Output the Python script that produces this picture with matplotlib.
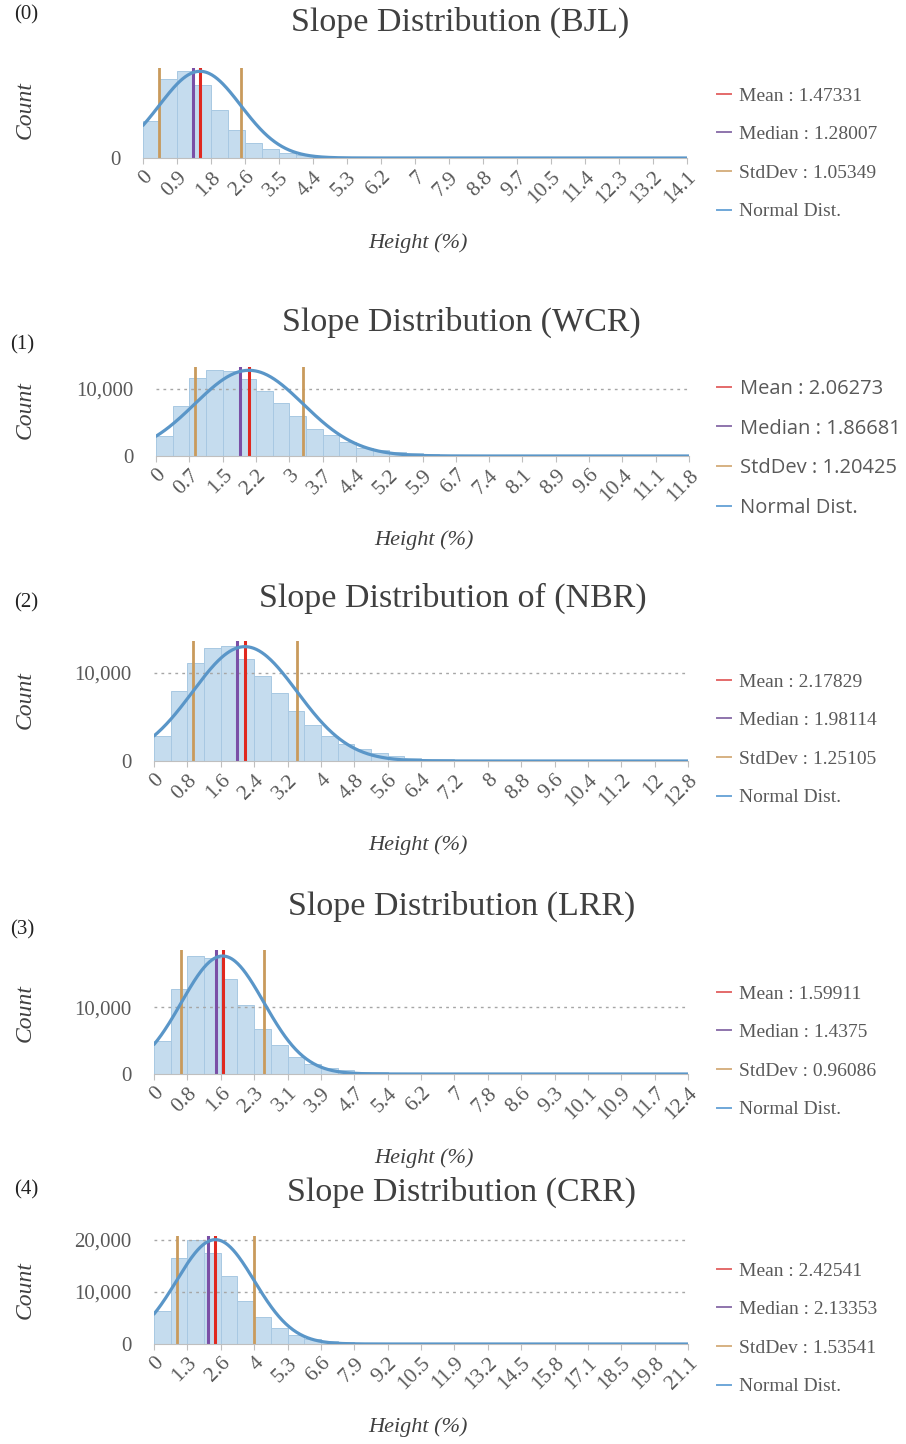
import numpy as np
import matplotlib
matplotlib.use("Agg")
import matplotlib.pyplot as plt
from matplotlib.lines import Line2D

# ---------------- data ----------------
panel_tags = ["(0)", "(1)", "(2)", "(3)", "(4)"]
titles = ["Slope Distribution (BJL)", "Slope Distribution (WCR)",
          "Slope Distribution of (NBR)", "Slope Distribution (LRR)",
          "Slope Distribution (CRR)"]

x_max = [14.06, 11.83, 12.8, 12.44, 21.1]

xtick_labels_bjl = ["0", "0.9", "1.8", "2.6", "3.5", "4.4", "5.3", "6.2", "7", "7.9",
                    "8.8", "9.7", "10.5", "11.4", "12.3", "13.2", "14.1"]
xtick_labels_wcr = ["0", "0.7", "1.5", "2.2", "3", "3.7", "4.4", "5.2", "5.9", "6.7",
                    "7.4", "8.1", "8.9", "9.6", "10.4", "11.1", "11.8"]
xtick_labels_nbr = ["0", "0.8", "1.6", "2.4", "3.2", "4", "4.8", "5.6", "6.4", "7.2",
                    "8", "8.8", "9.6", "10.4", "11.2", "12", "12.8"]
xtick_labels_lrr = ["0", "0.8", "1.6", "2.3", "3.1", "3.9", "4.7", "5.4", "6.2", "7",
                    "7.8", "8.6", "9.3", "10.1", "10.9", "11.7", "12.4"]
xtick_labels_crr = ["0", "1.3", "2.6", "4", "5.3", "6.6", "7.9", "9.2", "10.5", "11.9",
                    "13.2", "14.5", "15.8", "17.1", "18.5", "19.8", "21.1"]

counts_bjl = [3700, 7930, 8670, 7270, 4770, 2770, 1500, 930, 500, 270, 150, 100, 60, 40,
              30, 20, 15, 10, 8, 5, 4, 3, 2, 2, 1, 1, 1, 1, 1, 1, 1, 1]
counts_wcr = [2890, 7450, 11520, 12700, 12600, 11370, 9660, 7800, 5980, 4020, 3040, 2060,
              1230, 830, 590, 390, 300, 220, 160, 120, 90, 70, 50, 40, 30, 20, 15, 10, 8,
              6, 4, 3]
counts_nbr = [2830, 7960, 11060, 12830, 13020, 11550, 9660, 7660, 5660, 4075, 2830, 1890,
              1320, 870, 600, 380, 260, 180, 120, 90, 60, 45, 30, 20, 15, 10, 8, 6, 4, 3,
              2, 2]
counts_lrr = [4975, 12690, 17710, 17400, 14230, 10350, 6770, 4380, 2490, 1490, 900, 550,
              350, 250, 180, 120, 80, 60, 40, 30, 20, 15, 10, 8, 6, 4, 3, 2, 2, 1, 1, 1]
counts_crr = [6350, 16510, 20000, 17460, 13020, 8250, 5080, 3050, 1780, 1020, 510, 320,
              200, 120, 80, 50, 30, 20, 15, 10, 8, 6, 4, 3, 2, 2, 1, 1, 1, 1, 1, 1]

means = [1.47331, 2.06273, 2.17829, 1.59911, 2.42541]
medians = [1.28007, 1.86681, 1.98114, 1.4375, 2.13353]
stddevs = [1.05349, 1.20425, 1.25105, 0.96086, 1.53541]
curve_peaks = [8670, 12700, 12940, 17660, 20000]
y_top = [9000, 13190, 13580, 18560, 20700]
y_ticks = [[0], [0, 10000], [0, 10000], [0, 10000], [0, 10000, 20000]]

xtick_labels = [xtick_labels_bjl, xtick_labels_wcr, xtick_labels_nbr,
                xtick_labels_lrr, xtick_labels_crr]
counts = [counts_bjl, counts_wcr, counts_nbr, counts_lrr, counts_crr]

# ---------------- layout (pixels of the 906x1444 canvas) ----------------
W, H = 906, 1444
plot_box = [(143, 687, 158, 68), (156, 689, 456, 367), (154, 688, 761, 641),
            (154, 688, 1074, 950), (154, 688, 1344, 1236)]
title_pos = [(460, 22), (461, 322), (453, 598), (462, 906), (461, 1192)]
tag_pos = [(26, 15), (22, 345), (26, 603), (22, 930), (26, 1190)]
count_pos = [(25, 110), (25, 410), (25, 700), (25, 1013), (25, 1290)]
height_pos = [(418, 243), (424, 540), (418, 845), (424, 1158), (418, 1427)]
legend_pos = [(717, 87), (717, 379), (717, 673), (717, 985), (717, 1262)]

SERIF = ["Liberation Serif", "DejaVu Serif"]
SANS = ["Open Sans", "DejaVu Sans"]

text_dark = "#404040"
tick_grey = "#595959"
bar_face = "#c5dcee"
bar_edge = "#a8c8e2"
curve_col = "#5a96c8"
mean_col = "#e0281f"
median_col = "#7a4fa6"
std_col = "#c99a5c"
leg_cols = ["#e46a6a", "#8e74ac", "#d6b182", "#6fa7d8"]


def fx(x):
    return x / W


def fy(y):
    return 1 - y / H


fig = plt.figure(figsize=(W / 100, H / 100), dpi=100)
fig.patch.set_facecolor("white")

for i in range(5):
    L, R, B, T = plot_box[i]
    ax = fig.add_axes([fx(L), fy(B), (R - L) / W, (B - T) / H])
    n = len(counts[i])
    bw = x_max[i] / n
    edges = np.arange(n) * bw
    ax.bar(edges, counts[i], width=bw, align="edge", color=bar_face,
           edgecolor=bar_edge, linewidth=0.7, zorder=1)

    xs = np.linspace(0, x_max[i], 600)
    ys = curve_peaks[i] * np.exp(-(xs - means[i]) ** 2 / (2 * stddevs[i] ** 2))

    for yt in y_ticks[i][1:]:
        ax.axhline(yt, color="#a6a6a6", lw=1.0, ls=(0, (2, 3)), zorder=1.5)

    ax.axvline(means[i] - stddevs[i], color=std_col, lw=2.0, zorder=2)
    ax.axvline(means[i] + stddevs[i], color=std_col, lw=2.0, zorder=2)
    ax.axvline(medians[i], color=median_col, lw=2.2, zorder=2.1)
    ax.axvline(means[i], color=mean_col, lw=2.2, zorder=2.2)
    ax.plot(xs, ys, color=curve_col, lw=2.3, zorder=3, solid_capstyle="round")

    ax.set_xlim(0, x_max[i])
    ax.set_ylim(0, y_top[i])
    ticks = np.arange(len(xtick_labels[i])) * x_max[i] / (len(xtick_labels[i]) - 1)
    ax.set_xticks(ticks)
    ax.set_xticklabels(xtick_labels[i], rotation=45, ha="right",
                       rotation_mode="anchor", fontfamily=SERIF, fontsize=15.5,
                       color=tick_grey)
    ax.tick_params(axis="x", length=4, width=0.8, color="#bfbfbf", pad=3)
    ax.set_yticks(y_ticks[i])
    ax.set_yticklabels([f"{v:,}" for v in y_ticks[i]], fontfamily=SERIF,
                       fontsize=15, color=tick_grey)
    ax.tick_params(axis="y", length=0, pad=16)
    for s in ["top", "right", "left"]:
        ax.spines[s].set_visible(False)
    ax.spines["bottom"].set_color("#bfbfbf")
    ax.spines["bottom"].set_linewidth(0.8)
    ax.set_facecolor("none")

    # texts
    fig.text(fx(title_pos[i][0]), fy(title_pos[i][1]), titles[i], ha="center",
             va="center", fontfamily=SERIF, fontsize=24.5, color=text_dark)
    fig.text(fx(tag_pos[i][0]), fy(tag_pos[i][1]), panel_tags[i], ha="center",
             va="center", fontfamily=SERIF, fontsize=15, color="#222222")
    fig.text(fx(count_pos[i][0]), fy(count_pos[i][1]), "Count", ha="center",
             va="center", rotation=90, fontfamily=SERIF, fontstyle="italic",
             fontsize=17, color=text_dark)
    fig.text(fx(height_pos[i][0]), fy(height_pos[i][1]), "Height (%)", ha="center",
             va="center", fontfamily=SERIF, fontstyle="italic", fontsize=16,
             color=text_dark)

    # legend
    labels = [f"Mean : {means[i]}", f"Median : {medians[i]}",
              f"StdDev : {stddevs[i]}", "Normal Dist."]
    handles = [Line2D([0], [0], color=c, lw=1.4) for c in leg_cols]
    lfam = SANS if i == 1 else SERIF
    lsize = 14.5 if i == 1 else 14
    lspace = 0.97 if i == 1 else 1.08
    leg = ax.legend(handles, labels, loc="upper left",
                    bbox_to_anchor=(fx(legend_pos[i][0]), fy(legend_pos[i][1])),
                    bbox_transform=fig.transFigure, frameon=False,
                    handlelength=0.7, handletextpad=0.45, labelspacing=lspace,
                    borderpad=0, borderaxespad=0,
                    prop={"family": lfam, "size": lsize})
    for t in leg.get_texts():
        t.set_color(tick_grey)

fig.savefig("out.png", dpi=100, facecolor="white")
